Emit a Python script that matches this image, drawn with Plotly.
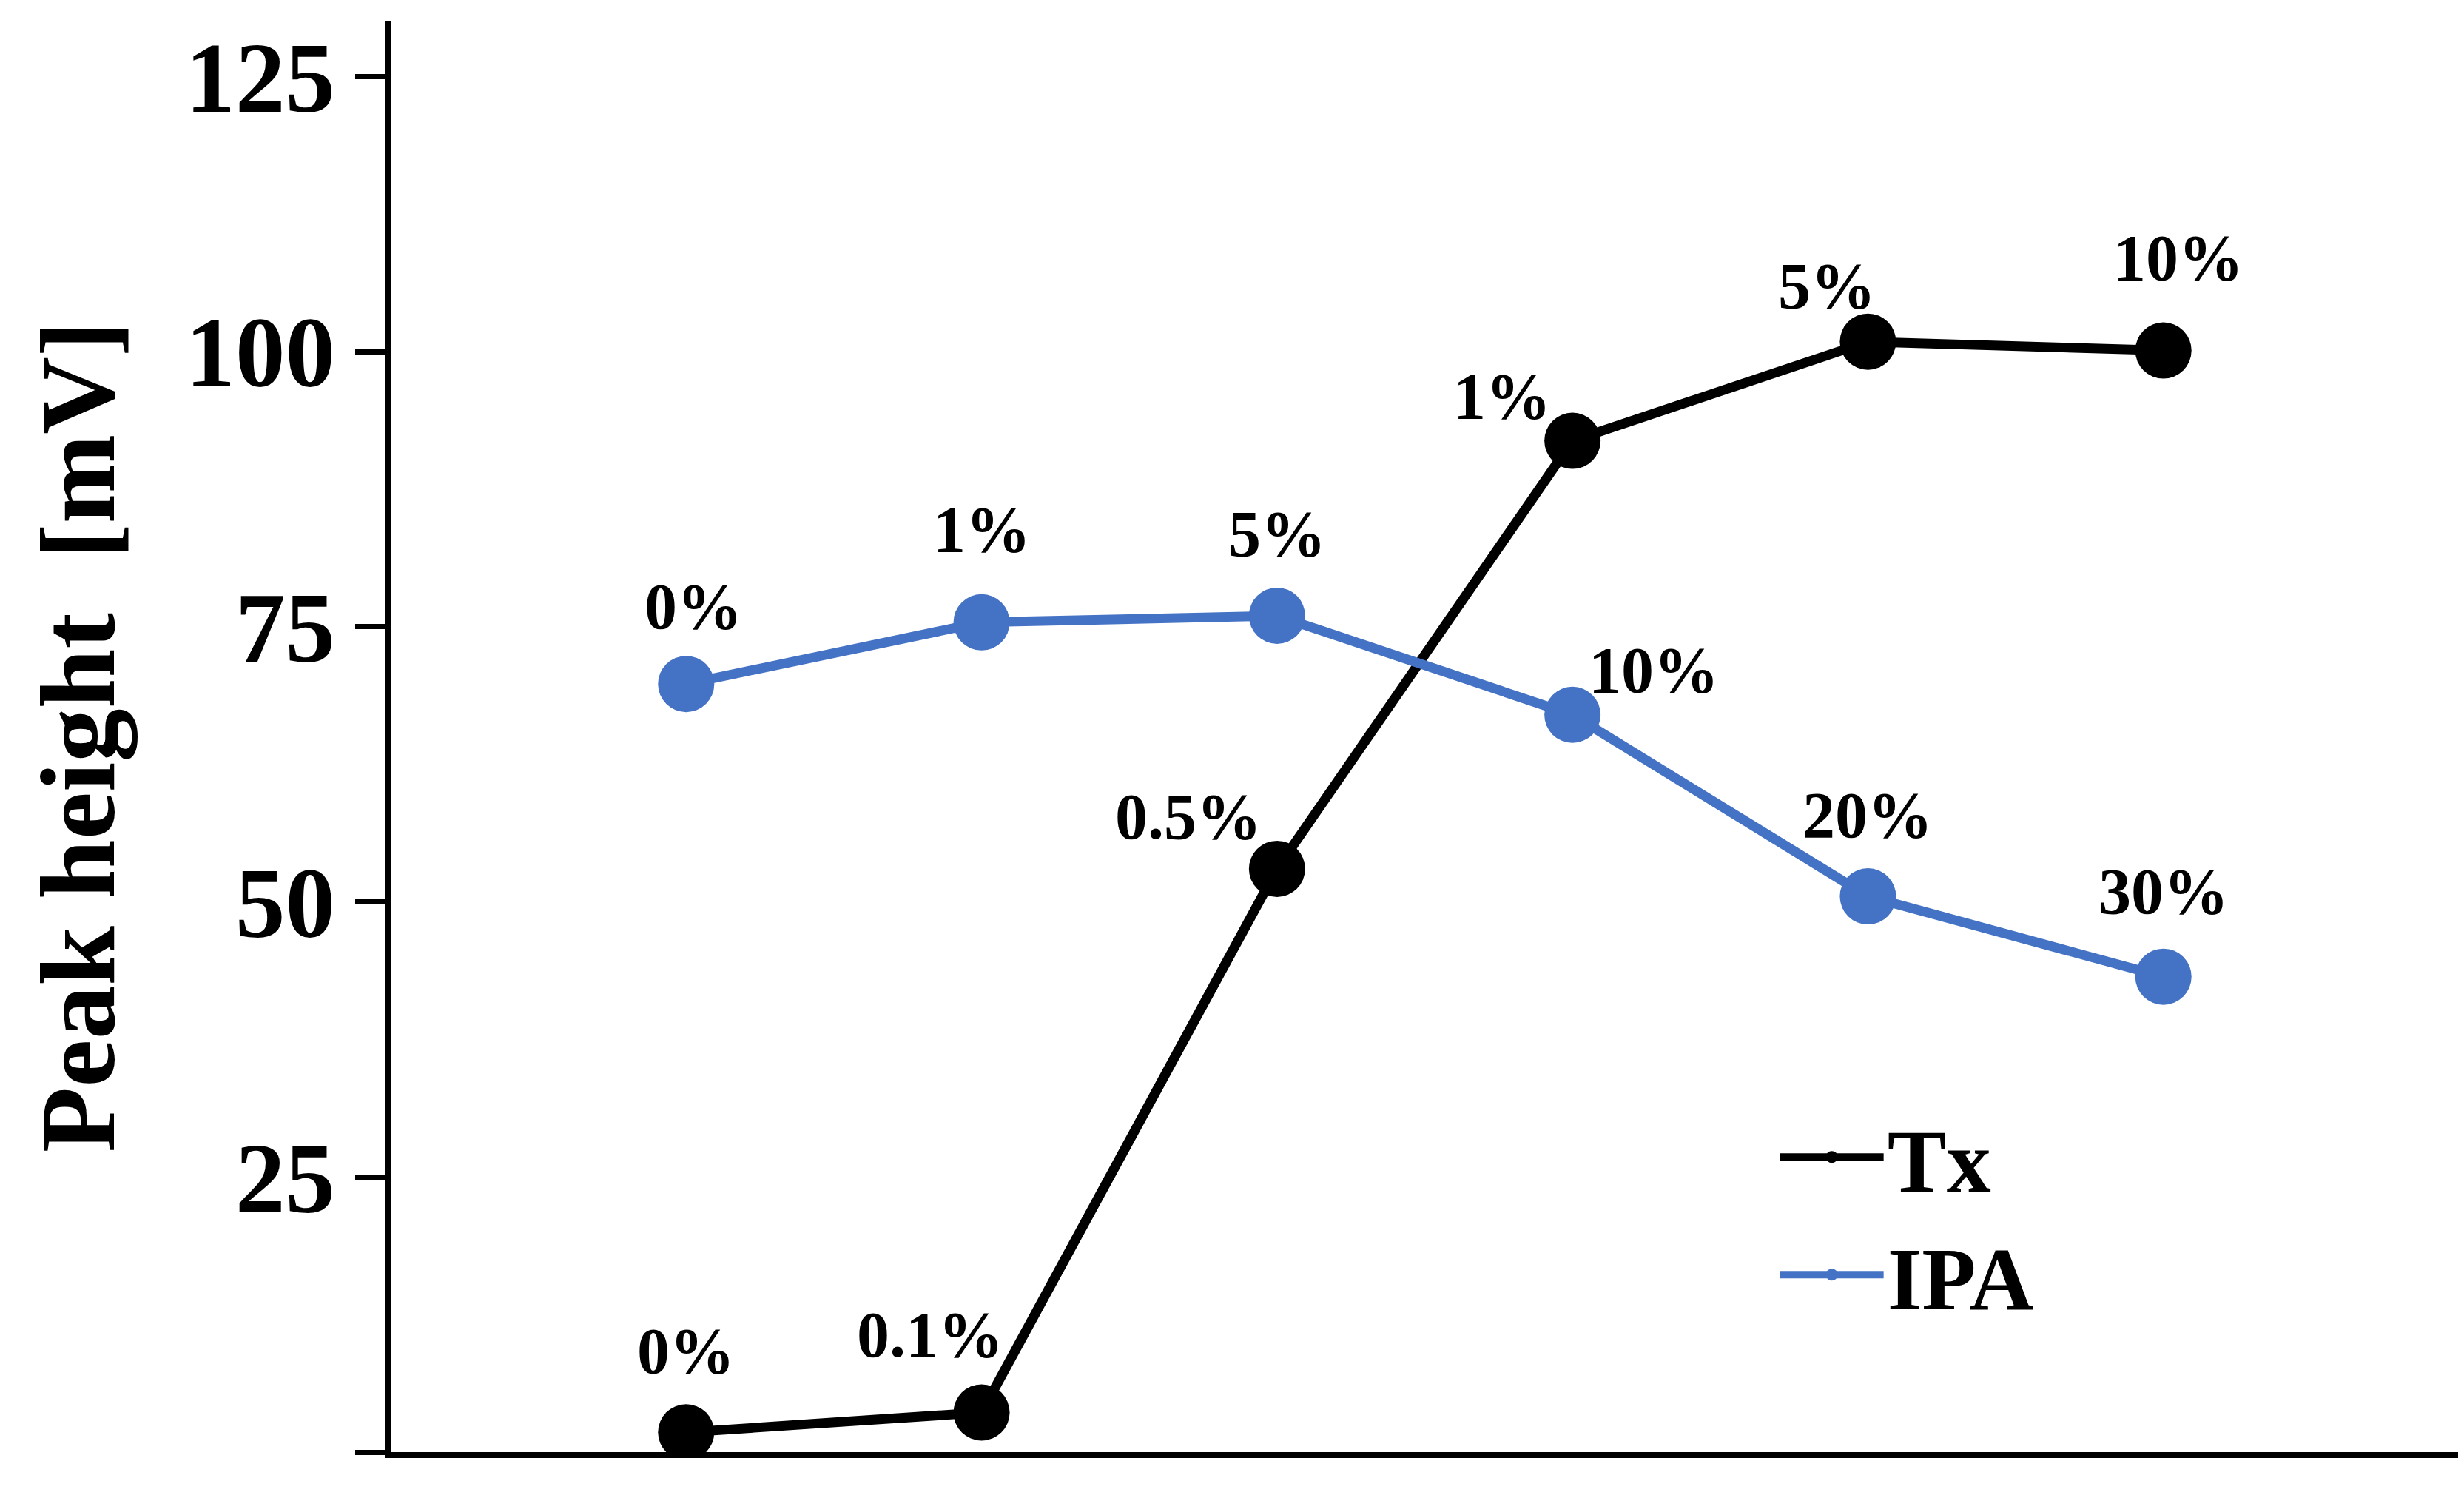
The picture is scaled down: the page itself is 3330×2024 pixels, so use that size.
import plotly.graph_objects as go

x_pos = [1, 2, 3, 4, 5, 6]
tx_vals = [1.8, 3.6, 53.0, 91.9, 100.9, 100.1]
tx_labels = ["0%", "0.1%", "0.5%", "1%", "5%", "10%"]
ipa_vals = [69.8, 75.4, 76.0, 67.0, 50.5, 43.2]
ipa_labels = ["0%", "1%", "5%", "10%", "20%", "30%"]

font = "Liberation Serif, Times New Roman, serif"
blue = "#4472C4"

fig = go.Figure()
fig.add_trace(go.Scatter(x=x_pos, y=tx_vals, mode="lines+markers", name="Tx",
                         line=dict(color="black", width=13),
                         marker=dict(color="black", size=76)))
fig.add_trace(go.Scatter(x=x_pos, y=ipa_vals, mode="lines+markers", name="IPA",
                         line=dict(color=blue, width=13),
                         marker=dict(color=blue, size=76)))

# label offsets (pixels) for each point
tx_off = [(0, 110), (-70, 105), (-120, 70), (-95, 60), (-55, 75), (20, 125)]
ipa_off = [(10, 105), (0, 125), (0, 110), (110, 60), (0, 110), (0, 115)]
for xs, ys, labs, offs in [(x_pos, tx_vals, tx_labels, tx_off),
                           (x_pos, ipa_vals, ipa_labels, ipa_off)]:
    for xv, yv, lab, (dx, dy) in zip(xs, ys, labs, offs):
        fig.add_annotation(x=xv, y=yv, text=lab, showarrow=False,
                           xshift=dx, yshift=dy,
                           font=dict(family=font, size=88, color="black", weight="bold"))

fig.update_layout(
    width=3330, height=2024,
    plot_bgcolor="white", paper_bgcolor="white",
    margin=dict(l=520, r=15, t=21, b=70),
    font=dict(family=font, color="black", weight="bold"),
    legend=dict(x=0.67, y=0.25, xanchor="left", yanchor="top",
                font=dict(family=font, size=120, weight="bold"),
                itemwidth=140, bgcolor="rgba(0,0,0,0)"),
)
fig.update_xaxes(range=[0, 7], showticklabels=False, showgrid=False,
                 showline=True, linecolor="black", linewidth=8, ticks="",
                 zeroline=False)
fig.update_yaxes(range=[0, 130], tickvals=[0, 25, 50, 75, 100, 125],
                 showgrid=False, zeroline=False, showline=True,
                 linecolor="black", linewidth=8, ticks="outside",
                 ticklen=40, tickwidth=7, tickcolor="black",
                 tickfont=dict(family=font, size=135, weight="bold"),
                 title=dict(text="Peak height  [mV]", standoff=50,
                            font=dict(family=font, size=145, weight="bold")))

fig.write_html("out.html")
